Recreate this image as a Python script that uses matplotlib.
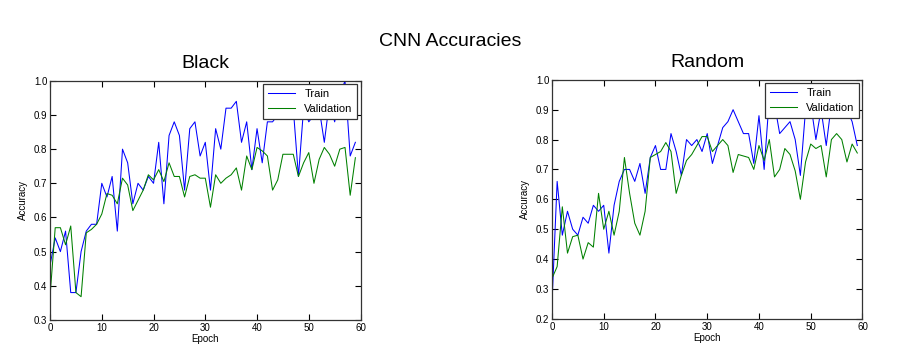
import matplotlib
matplotlib.use('Agg')
import matplotlib.pyplot as plt
import numpy as np

# epochs 0..59
epochs = np.arange(60)

# Black (values hidden by the legend are estimated)
black_train = [0.46, 0.54, 0.50, 0.56, 0.38, 0.38, 0.50, 0.56, 0.58, 0.58,
               0.70, 0.66, 0.72, 0.56, 0.80, 0.76, 0.64, 0.70, 0.68, 0.72,
               0.70, 0.82, 0.64, 0.84, 0.88, 0.84, 0.68, 0.86, 0.88, 0.78,
               0.82, 0.68, 0.86, 0.80, 0.92, 0.92, 0.94, 0.82, 0.88, 0.74,
               0.86, 0.76, 0.88, 0.88, 0.90, 0.92, 0.94, 0.92, 0.72, 0.92,
               0.88, 0.90, 0.92, 0.82, 0.94, 0.88, 0.96, 1.00, 0.78, 0.82]
black_val = [0.37, 0.57, 0.57, 0.52, 0.575, 0.38, 0.368, 0.555, 0.565, 0.58,
             0.61, 0.67, 0.665, 0.64, 0.715, 0.695, 0.62, 0.65, 0.68, 0.725,
             0.71, 0.74, 0.705, 0.76, 0.72, 0.72, 0.66, 0.72, 0.725, 0.715,
             0.715, 0.63, 0.725, 0.70, 0.715, 0.725, 0.745, 0.68, 0.78, 0.74,
             0.805, 0.795, 0.78, 0.68, 0.71, 0.785, 0.785, 0.785, 0.72, 0.76,
             0.79, 0.70, 0.77, 0.805, 0.785, 0.75, 0.80, 0.805, 0.665, 0.775]

# Random
random_train = [0.25, 0.66, 0.48, 0.56, 0.50, 0.48, 0.54, 0.52, 0.58, 0.56,
                0.58, 0.42, 0.58, 0.66, 0.70, 0.70, 0.66, 0.72, 0.62, 0.74,
                0.78, 0.70, 0.70, 0.82, 0.76, 0.68, 0.80, 0.78, 0.80, 0.76,
                0.82, 0.72, 0.78, 0.84, 0.86, 0.90, 0.86, 0.82, 0.82, 0.72,
                0.88, 0.70, 0.94, 0.92, 0.82, 0.84, 0.86, 0.80, 0.68, 0.90,
                0.92, 0.80, 0.90, 0.78, 0.92, 0.94, 0.92, 0.90, 0.86, 0.78]
random_val = [0.335, 0.375, 0.575, 0.42, 0.475, 0.48, 0.40, 0.455, 0.44, 0.62,
              0.50, 0.56, 0.48, 0.56, 0.74, 0.62, 0.52, 0.48, 0.56, 0.74,
              0.75, 0.76, 0.79, 0.76, 0.62, 0.68, 0.73, 0.75, 0.78, 0.81,
              0.81, 0.76, 0.78, 0.80, 0.78, 0.69, 0.75, 0.745, 0.74, 0.70,
              0.78, 0.73, 0.80, 0.675, 0.70, 0.77, 0.75, 0.695, 0.60, 0.725,
              0.785, 0.77, 0.78, 0.675, 0.80, 0.82, 0.80, 0.725, 0.785, 0.755]

plt.rcParams['font.family'] = ['Liberation Sans', 'DejaVu Sans']

fig = plt.figure(figsize=(9, 3.5), dpi=100, facecolor='white')
fig.suptitle('CNN Accuracies', fontsize=14, y=0.905)

panels = [
    ('Black', black_train, black_val, (0.3, 1.0), [0.0556, 0.086, 0.345, 0.683]),
    ('Random', random_train, random_val, (0.2, 1.0), [0.6133, 0.089, 0.345, 0.683]),
]

for title, tr, va, ylim, rect in panels:
    ax = fig.add_axes(rect)
    ax.plot(epochs, tr, color='#0000ff', lw=0.75, label='Train')
    ax.plot(epochs, va, color='#008000', lw=0.75, label='Validation')
    ax.set_xlim(0, 60)
    ax.set_ylim(*ylim)
    ax.set_xticks(np.arange(0, 61, 10))
    ax.set_yticks(np.arange(ylim[0], 1.001, 0.1))
    ax.set_title(title, fontsize=14, pad=9)
    ax.set_xlabel('Epoch', fontsize=7, labelpad=1)
    ax.set_ylabel('Accuracy', fontsize=7, labelpad=4)
    ax.tick_params(direction='in', top=True, right=True, labelsize=7,
                   length=4, pad=2)
    for s in ax.spines.values():
        s.set_linewidth(0.9)
        s.set_color('#333333')
    leg = ax.legend(loc='upper right', fontsize=8, fancybox=False,
                    borderaxespad=0.3, handlelength=2.5, framealpha=1)
    leg.get_frame().set_edgecolor('#333333')
    leg.get_frame().set_linewidth(0.9)

plt.savefig('out.png', dpi=100, facecolor='white')
